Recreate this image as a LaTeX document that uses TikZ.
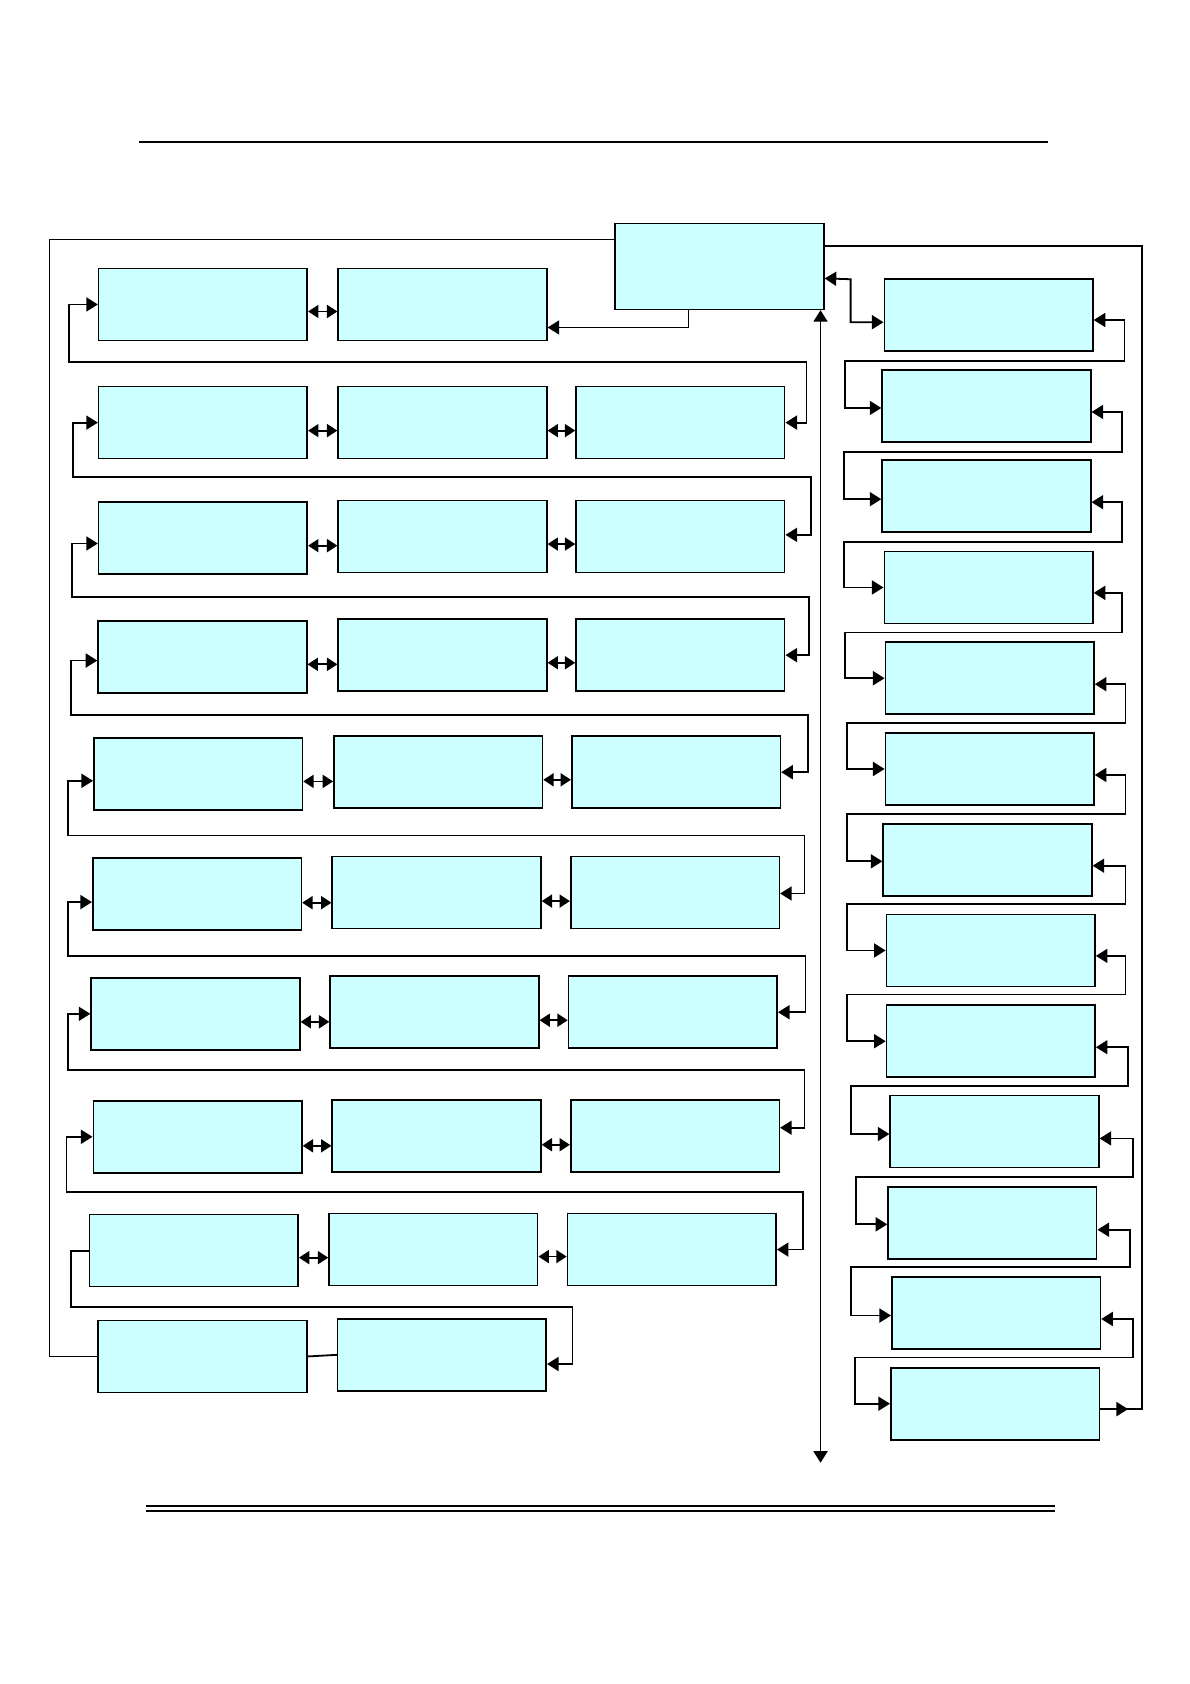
\documentclass[tikz,border=0pt]{standalone}
\usepackage{xcolor}
\usepackage{tikz}
\usetikzlibrary{arrows.meta}
\definecolor{boxcyan}{RGB}{204,255,255}

\begin{document}
\begin{tikzpicture}[x=0.537pt, y=-0.537pt,
	box/.style={draw, line width=0.8pt, fill=boxcyan, minimum width=104.3pt, minimum height=36pt, inner sep=0pt},
	link/.style={line width=0.9pt},
	arr/.style={link, -{Triangle[length=5.8pt,width=7pt]}},
	dbl/.style={link, {Triangle[length=5.8pt,width=7pt]}-{Triangle[length=5.8pt,width=7pt]}},
	pair/.style={link, {Triangle[length=5.2pt,width=6.5pt]}-{Triangle[length=5.2pt,width=6.5pt]}}]
				\useasboundingbox (0,0) rectangle (1108,1568);
				
				% rules at top and bottom
				\draw[line width=0.8pt] (129,132) -- (976,132);
				\draw[line width=1pt] (136,1402.5) -- (982,1402.5);
				\draw[line width=1pt] (136,1407) -- (982,1407);
				
				\node[box, minimum height=43pt] (main) at (670,248) {};
				
				% left block, rows of boxes
				\node[box] (l11) at (189,283.5) {};
				\node[box] (l12) at (412,283.5) {};
				
				\node[box] (l21) at (189,393.5) {};
				\node[box] (l22) at (412,393.5) {};
				\node[box] (l23) at (633.5,393.5) {};
				
				\node[box] (l31) at (189,501) {};
				\node[box] (l32) at (412,499.5) {};
				\node[box] (l33) at (633.5,499.5) {};
				
				\node[box] (l41) at (188.5,611.5) {};
				\node[box] (l42) at (412,610) {};
				\node[box] (l43) at (633.5,610) {};
				
				\node[box] (l51) at (184.5,720.5) {};
				\node[box] (l52) at (408,719) {};
				\node[box] (l53) at (629.5,719) {};
				
				\node[box] (l61) at (183.5,832.5) {};
				\node[box] (l62) at (406.5,831) {};
				\node[box] (l63) at (628.5,831) {};
				
				\node[box] (l71) at (182,944) {};
				\node[box] (l72) at (404.5,942.5) {};
				\node[box] (l73) at (626.5,942.5) {};
				
				\node[box] (l81) at (184,1058.5) {};
				\node[box] (l82) at (406.5,1057.5) {};
				\node[box] (l83) at (628.5,1057.5) {};
				
				\node[box] (l91) at (180.5,1164.5) {};
				\node[box] (l92) at (403.5,1163.5) {};
				\node[box] (l93) at (625.5,1163.5) {};
				
				\node[box] (l101) at (188.5,1263) {};
				\node[box] (l102) at (411.5,1261.5) {};
				
				% right block
				\node[box] (r1) at (920.5,293.5) {};
				\node[box] (r2) at (918.5,378) {};
				\node[box] (r3) at (918.5,462) {};
				\node[box] (r4) at (920.5,547) {};
				\node[box] (r5) at (921.5,631.5) {};
				\node[box] (r6) at (921.5,716) {};
				\node[box] (r7) at (919.5,800.5) {};
				\node[box] (r8) at (922.5,885) {};
				\node[box] (r9) at (922.5,969.5) {};
				\node[box] (r10) at (926,1053.5) {};
				\node[box] (r11) at (924,1138.5) {};
				\node[box] (r12) at (927.5,1222.5) {};
				\node[box] (r13) at (926.5,1307) {};
				
				% arrows inside the rows
				\draw[pair] ([yshift=-3.5pt]l11.east) -- ([yshift=-3.5pt]l12.west);
				\draw[pair] ([yshift=-4pt]l21.east) -- ([yshift=-4pt]l22.west);
				\draw[pair] ([yshift=-4pt]l22.east) -- ([yshift=-4pt]l23.west);
				\draw[pair] ([yshift=-3.8pt]l31.east) -- ([yshift=-3.8pt]l31.east -| l32.west);
				\draw[pair] ([yshift=-3.8pt]l32.east) -- ([yshift=-3.8pt]l33.west);
				\draw[pair] ([yshift=-3.8pt]l41.east) -- ([yshift=-3.8pt]l41.east -| l42.west);
				\draw[pair] ([yshift=-3.8pt]l42.east) -- ([yshift=-3.8pt]l43.west);
				\draw[pair] ([yshift=-3.8pt]l51.east) -- ([yshift=-3.8pt]l51.east -| l52.west);
				\draw[pair] ([yshift=-3.8pt]l52.east) -- ([yshift=-3.8pt]l53.west);
				\draw[pair] ([yshift=-4.3pt]l61.east) -- ([yshift=-4.3pt]l61.east -| l62.west);
				\draw[pair] ([yshift=-4.3pt]l62.east) -- ([yshift=-4.3pt]l63.west);
				\draw[pair] ([yshift=-4pt]l71.east) -- ([yshift=-4pt]l71.east -| l72.west);
				\draw[pair] ([yshift=-4pt]l72.east) -- ([yshift=-4pt]l73.west);
				\draw[pair] ([yshift=-4.5pt]l81.east) -- ([yshift=-4.5pt]l81.east -| l82.west);
				\draw[pair] ([yshift=-4.5pt]l82.east) -- ([yshift=-4.5pt]l83.west);
				\draw[pair] ([yshift=-3.5pt]l91.east) -- ([yshift=-3.5pt]l91.east -| l92.west);
				\draw[pair] ([yshift=-3.5pt]l92.east) -- ([yshift=-3.5pt]l93.west);
				\draw[link] (l101.east) -- (l102.west);
				
				% loops from one row to the next
				\draw[dbl] (l11.west) -| (64,337) -- (751,337) |- (l23.east);
				\draw[dbl] (l21.west) -| (68,444) -- (755,444) |- ([yshift=0.8pt]l33.east);
				\draw[dbl] ([yshift=-2.7pt]l31.west) -| (67,556) -- (753,556) |- (l43.east);
				\draw[dbl] ([yshift=-1.9pt]l41.west) -| (66,666) -- (752,666) |- (l53.east);
				\draw[dbl] ([yshift=-3.5pt]l51.west) -| (63,778) -- (749,778) |- ([yshift=-0.5pt]l63.east);
				\draw[dbl] ([yshift=-4pt]l61.west) -| (63,890) -- (750,890) |- (l73.east);
				\draw[dbl] (l71.west) -| (63,996) -- (749,996) |- ([yshift=4pt]l83.east);
				\draw[dbl] (l81.west) -| (62,1110) -- (748,1110) |- (l93.east);
				\draw[arr] (l91.west) -| (66,1217) -- (533,1217) |- ([yshift=-4.6pt]l102.east);
				
				\draw[dbl] ([yshift=-2.4pt]r1.east) -| (1047,336) -- (787,336) |- ([yshift=-1pt]r2.west);
				\draw[dbl] ([yshift=-3pt]r2.east) -| (1045,421) -- (786,421) |- ([yshift=-1.5pt]r3.west);
				\draw[dbl] ([yshift=-3pt]r3.east) -| (1045,505) -- (786,505) |- (r4.west);
				\draw[dbl] ([yshift=-2.7pt]r4.east) -| (1045,589) -- (787,589) |- (r5.west);
				\draw[dbl] ([yshift=-3pt]r5.east) -| (1048,673) -- (789,673) |- (r6.west);
				\draw[dbl] ([yshift=-3pt]r6.east) -| (1048,758) -- (789,758) |- ([yshift=-0.8pt]r7.west);
				\draw[dbl] ([yshift=-3pt]r7.east) -| (1048,842) -- (789,842) |- (r8.west);
				\draw[dbl] ([yshift=-2.7pt]r8.east) -| (1048,926) -- (789,926) |- (r9.west);
				\draw[dbl] ([yshift=-3pt]r9.east) -| (1050,1011) -- (792,1011) |- ([yshift=-1.3pt]r10.west);
				\draw[dbl] ([yshift=-3.5pt]r10.east) -| (1055,1096) -- (797,1096) |- ([yshift=-0.8pt]r11.west);
				\draw[dbl] ([yshift=-3.5pt]r11.east) -| (1052,1180) -- (792,1180) |- ([yshift=-1.3pt]r12.west);
				\draw[dbl] ([yshift=-3pt]r12.east) -| (1055,1264) -- (796,1264) |- (r13.west);
				
				% links of the top box
				\coordinate (bottom) at (764,1362);
				\draw[arr] (main.south -| 641,0) |- ([yshift=-11.5pt]l12.east);
				\draw[dbl] (main.south -| bottom) -- (bottom);
				\draw[dbl] (main.east |- r1.north) -- (792,260) |- ([yshift=-3.5pt]r1.west);
				\draw[link] (l101.west) -| (46,223) -- (main.west |- 0,223);
				\draw[link] ([yshift=-2.7pt]r13.east) -| (1063,229) -- (main.east |- 0,229);
				\draw[arr] ([yshift=-2.7pt]r13.east) -- ++(26,0);
			\end{tikzpicture}
\end{document}
